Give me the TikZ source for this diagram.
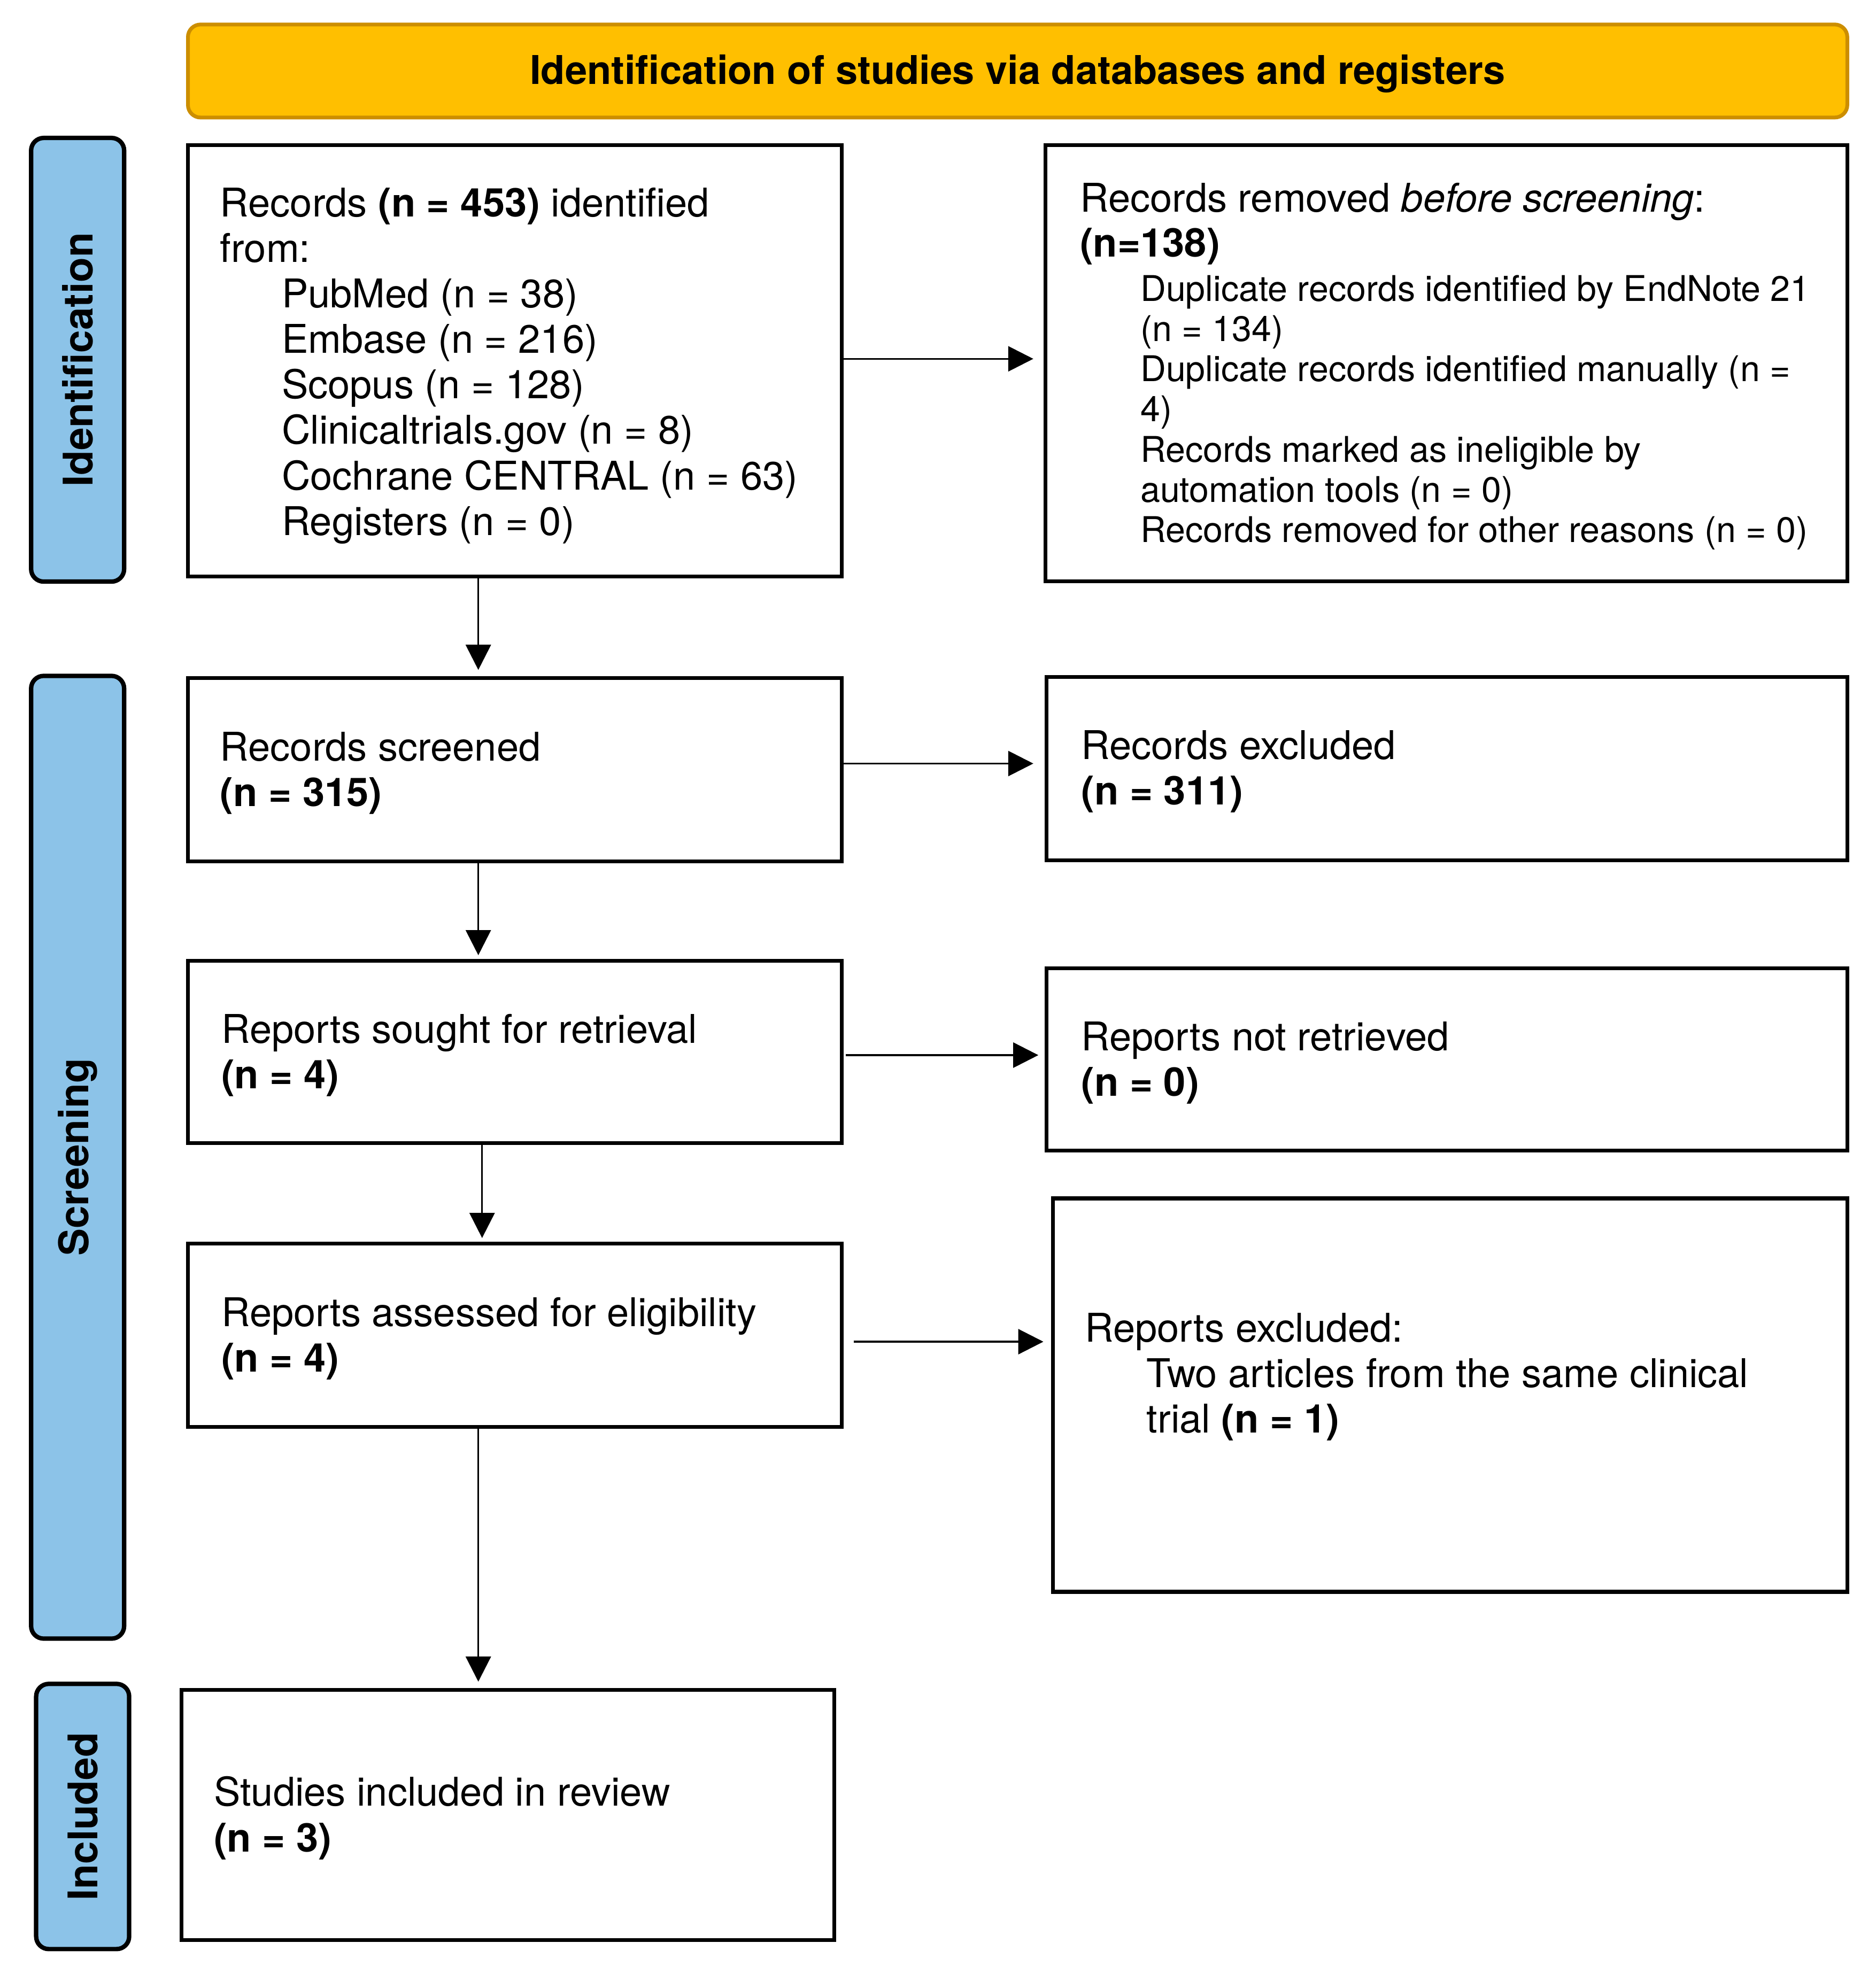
\documentclass[tikz,border=0pt]{standalone}
\usepackage{fontspec}
\setmainfont{TeX Gyre Heros}
\usetikzlibrary{arrows.meta}
\definecolor{gold}{HTML}{FFBF00}
\definecolor{golddark}{HTML}{CC8E00}
\definecolor{sideblue}{HTML}{8CC3E8}
\begin{document}
\begin{tikzpicture}[x=1pt,y=-1pt,
  box/.style={draw=black, line width=3pt, anchor=north west, inner sep=0pt},
  side/.style={draw=black, line width=3.5pt, fill=sideblue, rounded corners=10pt, anchor=north west, inner sep=0pt},
  txt/.style={anchor=west, align=left, inner sep=0pt, yshift=-2.5pt, font=\fontsize{31.5}{36.2}\selectfont},
  lab/.style={font=\fontsize{32.5}{36}\selectfont\bfseries, rotate=90, inner sep=0pt},
  arr/.style={-{Triangle[length=20pt,width=20pt]}, line width=1.4pt}
]
\useasboundingbox (0,0) rectangle (1492,1570.6);

% banner
\node[draw=golddark, fill=gold, line width=3pt, rounded corners=10pt, anchor=north west,
      minimum width=1320pt, minimum height=74pt, inner sep=0pt] (banner) at (148,18) {};
\node[font=\fontsize{31.5}{36}\selectfont\bfseries, inner sep=0pt] (bannerText)
      at ([yshift=-2pt]banner.center) {Identification of studies via databases and registers};

% side bars
\node[side, minimum width=74pt, minimum height=353pt] (sIdent) at (23,108) {};
\node[lab] (lIdent) at (sIdent.center) {Identification};
\node[side, minimum width=74pt, minimum height=766pt] (sScreen) at (23,536) {};
\node[lab] (lScreen) at (sScreen.center) {Screening};
\node[side, minimum width=74pt, minimum height=211pt] (sIncl) at (27,1338) {};
\node[lab] (lIncl) at (sIncl.center) {Included};

% boxes
\node[box, minimum width=520pt, minimum height=343pt] (ident) at (148,114) {};
\node[box, minimum width=638pt, minimum height=347pt] (removed) at (830,114) {};
\node[box, minimum width=520pt, minimum height=146pt] (screened) at (148,538) {};
\node[box, minimum width=637pt, minimum height=146pt] (excluded) at (831,537) {};
\node[box, minimum width=520pt, minimum height=145pt] (sought) at (148,763) {};
\node[box, minimum width=637pt, minimum height=145pt] (notret) at (831,769) {};
\node[box, minimum width=520pt, minimum height=146pt] (assessed) at (148,988) {};
\node[box, minimum width=632pt, minimum height=313pt] (repexcl) at (836,952) {};
\node[box, minimum width=519pt, minimum height=199pt] (included) at (143,1343) {};

% texts
\node[txt] (tIdent) at ([xshift=27pt,yshift=-1.5pt]ident.west)
  {Records \textbf{(n = 453)} identified\\from:\\
   \hspace*{49pt}PubMed (n = 38)\\
   \hspace*{49pt}Embase (n = 216)\\
   \hspace*{49pt}Scopus (n = 128)\\
   \hspace*{49pt}Clinicaltrials.gov (n = 8)\\
   \hspace*{49pt}Cochrane CENTRAL (n = 63)\\
   \hspace*{49pt}Registers (n = 0)};
\node[txt] (tRemoved) at ([xshift=29pt]removed.west)
  {\begin{minipage}{600pt}\raggedright
   \fontsize{31.5}{36}\selectfont Records removed \textit{before screening}:\\
   \textbf{(n=138)}\par\vspace{3pt}
   \fontsize{28.2}{32}\selectfont\leftskip=48pt
   Duplicate records identified by EndNote 21\\
   (n = 134)\\
   Duplicate records identified manually (n =\\
   4)\\
   Records marked as ineligible by\\
   automation tools (n = 0)\\
   Records removed for other reasons (n = 0)\par
   \end{minipage}};
\node[txt] (tScreened) at ([xshift=27pt]screened.west) {Records screened\\\textbf{(n = 315)}};
\node[txt] (tExcluded) at ([xshift=29pt]excluded.west) {Records excluded\\\textbf{(n = 311)}};
\node[txt] (tSought) at ([xshift=28pt]sought.west) {Reports sought for retrieval\\\textbf{(n = 4)}};
\node[txt] (tNotret) at ([xshift=29pt]notret.west) {Reports not retrieved\\\textbf{(n = 0)}};
\node[txt] (tAssessed) at ([xshift=28pt]assessed.west) {Reports assessed for eligibility\\\textbf{(n = 4)}};
\node[txt] (tRepexcl) at ([xshift=27pt,yshift=17pt]repexcl.west)
  {Reports excluded:\\
   \hspace*{49pt}Two articles from the same clinical\\
   \hspace*{49pt}trial \textbf{(n = 1)}};
\node[txt] (tIncluded) at ([xshift=27pt]included.west) {Studies included in review\\\textbf{(n = 3)}};

% connectors
\draw[arr, shorten >=8pt] ([yshift=1.5pt]ident.east) -- ([yshift=1.5pt]ident.east -| removed.west);
\draw[arr, shorten >=5pt] ([xshift=-29pt]ident.south) -- ([xshift=-29pt]ident.south |- screened.north);
\draw[arr, shorten >=9pt] ([yshift=5pt]screened.east) -- ([yshift=5pt]screened.east -| excluded.west);
\draw[arr, shorten >=3pt] ([xshift=-29pt]screened.south) -- ([xshift=-29pt]screened.south |- sought.north);
\draw[arr, shorten <=2pt, shorten >=5pt] ([yshift=-2.5pt]sought.east) -- ([yshift=-2.5pt]sought.east -| notret.west);
\draw[arr, shorten >=3pt] ([xshift=-26pt]sought.south) -- ([xshift=-26pt]sought.south |- assessed.north);
\draw[arr, shorten <=8pt, shorten >=6pt] ([yshift=-5pt]assessed.east) -- ([yshift=-5pt]assessed.east -| repexcl.west);
\draw[arr, shorten >=5pt] ([xshift=-29pt]assessed.south) -- ([xshift=-29pt]assessed.south |- included.north);
\end{tikzpicture}
\end{document}
